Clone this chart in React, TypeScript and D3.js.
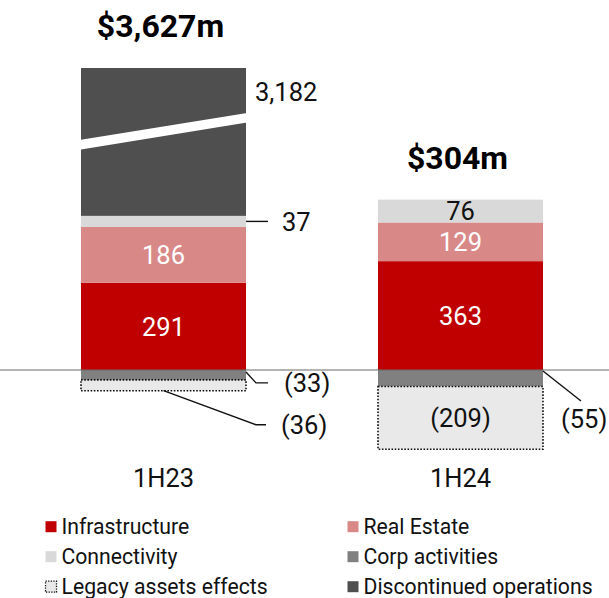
import React from 'react';
import * as d3 from 'd3';

// periods and segment values ($m)
const periods = ['1H23', '1H24'];
const infrastructure = [291, 363];
const realEstate = [186, 129];
const connectivity = [37, 76];
const discontinued = [3182, 0];
const corpActivities = [-33, -55];
const legacyAssets = [-36, -209];

const seriesNames = [
  'Infrastructure',
  'Real Estate',
  'Connectivity',
  'Discontinued operations',
  'Corp activities',
  'Legacy assets effects',
];
const seriesValues = [infrastructure, realEstate, connectivity, discontinued, corpActivities, legacyAssets];
const seriesColors = ['#c00000', '#d98888', '#d9d9d9', '#4f4f4f', '#808080', '#e8e9e8'];

// legend layout order (two columns)
const legendOrder = [
  'Infrastructure', 'Real Estate',
  'Connectivity', 'Corp activities',
  'Legacy assets effects', 'Discontinued operations',
];

const W = 609;
const H = 598;
const FONT = 'Roboto, Arial, sans-serif';
const LABEL_SIZE = 25.5;

type Seg = { name: string; period: string; value: number; x0: number; x1: number; top: number; bottom: number; clipped: boolean };

// labels drawn outside the bar, with their leader lines
const outside: Record<string, { lead: (s: Seg) => string; tx: (s: Seg) => number; ty: (s: Seg) => number }> = {
  'Discontinued operations|1H23': {
    lead: () => '',
    tx: (s) => s.x1 + 9,
    ty: (s) => s.top + 24,
  },
  'Connectivity|1H23': {
    lead: (s) => `M${s.x1},${(s.top + s.bottom) / 2}H${s.x1 + 22}`,
    tx: (s) => s.x1 + 36,
    ty: (s) => (s.top + s.bottom) / 2,
  },
  'Corp activities|1H23': {
    lead: (s) => `M${s.x1},${s.top + 2}L${s.x1 + 10},${s.bottom + 3}H${s.x1 + 22}`,
    tx: (s) => s.x1 + 38,
    ty: (s) => s.bottom + 3,
  },
  'Legacy assets effects|1H23': {
    lead: (s) => `M${(s.x0 + s.x1) / 2},${s.bottom}L${s.x1 + 10},${s.bottom + 34}H${s.x1 + 20}`,
    tx: (s) => s.x1 + 35,
    ty: (s) => s.bottom + 34,
  },
  'Corp activities|1H24': {
    lead: (s) => `M${s.x1},${s.top + 1}L${s.x1 + 38},${s.top + 31}`,
    tx: (s) => s.x1 + 18,
    ty: (s) => s.top + 49,
  },
};

const fmt = (v: number) => (v < 0 ? `(${d3.format(',')(-v)})` : d3.format(',')(v));

export default function App() {
  const x = d3.scaleBand().domain(periods).range([21.6, 602.4]).paddingInner(0.4444).paddingOuter(0.2);
  const yMax = 1007;
  const y = d3.scaleLinear().domain([-300, yMax]).range([460, 68]).clamp(true);

  const rows = periods.map((p, i) => {
    const r: any = { period: p };
    seriesNames.forEach((n, k) => (r[n] = seriesValues[k][i]));
    return r;
  });
  const stack = d3.stack<any>().keys(seriesNames).offset(d3.stackOffsetDiverging)(rows);

  const segs: Seg[] = [];
  stack.forEach((layer) => {
    layer.forEach((d, i) => {
      const v = d.data[layer.key];
      if (!v) return;
      const x0 = x(periods[i])!;
      segs.push({
        name: layer.key,
        period: periods[i],
        value: v,
        x0,
        x1: x0 + x.bandwidth(),
        top: y(Math.max(d[0], d[1])),
        bottom: y(Math.min(d[0], d[1])),
        clipped: Math.max(d[0], d[1]) > yMax,
      });
    });
  });

  const totals = periods.map((p, i) => ({
    period: p,
    total: d3.sum(seriesValues, (s) => s[i]),
    top: d3.min(segs.filter((s) => s.period === p), (s) => s.top)!,
  }));

  const colorOf = (n: string) => seriesColors[seriesNames.indexOf(n)];
  const dotted = (n: string) => n === 'Legacy assets effects';

  return (
    <svg width={W} height={H} style={{ position: 'absolute', left: 0, top: 0, fontFamily: FONT }}>
      {segs.map((s) => (
        <rect
          key={s.name + s.period}
          x={s.x0}
          y={s.top}
          width={s.x1 - s.x0}
          height={s.bottom - s.top}
          fill={colorOf(s.name)}
          stroke={dotted(s.name) ? '#111' : 'none'}
          strokeWidth={dotted(s.name) ? 1.6 : 0}
          strokeDasharray={dotted(s.name) ? '1.6,1.6' : undefined}
        />
      ))}

      {/* axis break on clipped bar */}
      {segs.filter((s) => s.clipped).map((s) => {
        const h = s.bottom - s.top;
        const lc = s.top + h * 0.518;
        const rc = s.top + h * 0.336;
        return (
          <polygon
            key={'brk' + s.period}
            points={`${s.x0},${lc - 4.8} ${s.x1 + 1},${rc - 4.8} ${s.x1 + 1},${rc + 4.8} ${s.x0},${lc + 4.8}`}
            fill="#fff"
          />
        );
      })}

      <line x1={0} x2={W} y1={y(0)} y2={y(0)} stroke="#6b6b6b" strokeWidth={1.2} />

      {/* segment labels */}
      {segs.map((s) => {
        const key = s.name + '|' + s.period;
        const o = outside[key];
        if (o) {
          return (
            <g key={'l' + key}>
              {o.lead(s) && <path d={o.lead(s)} fill="none" stroke="#111" strokeWidth={1.4} />}
              <text x={o.tx(s)} y={o.ty(s)} dy="0.36em" fontSize={LABEL_SIZE} fill="#111">
                {fmt(s.value)}
              </text>
            </g>
          );
        }
        const light = ['Connectivity', 'Legacy assets effects'].includes(s.name);
        return (
          <text
            key={'l' + key}
            x={(s.x0 + s.x1) / 2}
            y={(s.top + s.bottom) / 2}
            dy="0.36em"
            textAnchor="middle"
            fontSize={LABEL_SIZE}
            fill={light ? '#111' : '#fff'}
          >
            {fmt(s.value)}
          </text>
        );
      })}

      {/* totals */}
      {totals.map((t) => (
        <text
          key={'t' + t.period}
          x={x(t.period)! + x.bandwidth() / 2 - 3}
          y={t.top - 31}
          textAnchor="middle"
          fontSize={32}
          fontWeight="bold"
          fill="#000"
        >
          {`$${d3.format(',')(t.total)}m`}
        </text>
      ))}

      {/* category labels */}
      {periods.map((p) => (
        <text key={'c' + p} x={x(p)! + x.bandwidth() / 2} y={486.5} textAnchor="middle" fontSize={25.5} fill="#111">
          {p}
        </text>
      ))}

      {/* legend */}
      {legendOrder.map((n, i) => {
        const lx = i % 2 === 0 ? 45 : 347;
        const ly = 526.7 + Math.floor(i / 2) * 30;
        return (
          <g key={'lg' + n} transform={`translate(${lx},${ly})`}>
            <rect
              x={0.5}
              y={-5.5}
              width={11}
              height={11}
              fill={colorOf(n)}
              stroke={dotted(n) ? '#111' : 'none'}
              strokeWidth={dotted(n) ? 1.3 : 0}
              strokeDasharray={dotted(n) ? '1.3,1.3' : undefined}
            />
            <text x={16.5} y={0} dy="0.36em" fontSize={21.2} fill="#111">
              {n}
            </text>
          </g>
        );
      })}
    </svg>
  );
}
